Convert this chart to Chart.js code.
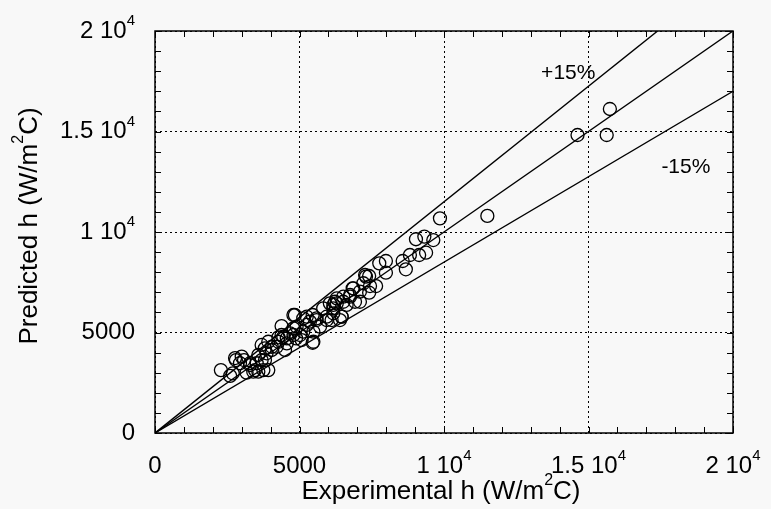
<!DOCTYPE html>
<html>
<head>
<meta charset="utf-8">
<script src="https://cdn.jsdelivr.net/npm/chart.js@4.4.1/dist/chart.umd.min.js"></script>
<style>
    html, body { margin: 0; padding: 0; background: #f8f8f8; }
    #wrap { width: 771px; height: 509px; }
</style>
</head>
<body>
<div id="wrap"><canvas id="hChart" width="771" height="509"></canvas></div>
<script>
// measured vs predicted heat transfer coefficient, W/m2C
const expH = [
    2280, 2600, 2690, 2800, 2940, 3080, 3170, 3400, 3290, 3520, 3575, 3750, 3805, 3690, 3860,
    3920, 4040, 4210, 4270, 4380, 4440, 4500, 4560, 4670, 4790, 4900, 4880, 5020, 5130, 5250,
    5360, 5455, 5480, 5590, 5710, 5820, 5940, 6110, 6170, 6290, 6460, 6515, 6630,
    5455, 5250, 4840, 5590, 5940, 6170, 6400, 6050, 6230, 6515, 6750, 6920, 6860, 7090, 7210,
    7270, 5480, 5130, 4790, 5075,
    2770, 3000, 3290, 3575, 3800, 4040, 4270, 4380, 4560, 4790, 3690, 3460, 3920,
    6170, 6290, 6460, 6750, 7090, 7410, 6840, 7440, 7650, 7300, 7410, 7990, 7760, 7990, 8680,
    8570, 8820, 9140, 9380, 9630, 9030, 9320,
    9860, 11500, 14620, 15630, 15740
];
const predH = [
    3130, 2840, 2970, 3630, 3470, 3630, 3000, 3050, 3470, 3470, 3050, 3130, 3630, 4380, 3965,
    4540, 4130, 4290, 4760, 5320, 4790, 4130, 4460, 4960, 5870, 5290, 4710, 4875, 5705, 5375,
    5540, 4490, 5040, 5705, 5290, 6200, 5785, 5620, 6370, 6700, 5785, 6780, 6370,
    5870, 5785, 5870, 5620, 5620, 5955, 5620, 6450, 6530, 6530, 6780, 6530, 7200, 7030, 7450,
    7860, 4540, 5040, 5210, 4625,
    3730, 3800, 3380, 3880, 4210, 4290, 4540, 4875, 4710, 4875, 3630, 3130, 3130,
    6200, 6450, 5785, 6865, 6530, 6980, 7200, 7310, 7310, 7780, 7810, 7975, 8440, 8557, 8145,
    8557, 8855, 8855, 8970, 9600, 9640, 9770,
    10680, 10800, 14825, 14825, 16120
];

// reference lines: perfect agreement and +/-15%
const parityLine = [[0, 0], [20000, 20000]];
const plus15Line = [[0, 0], [17391, 20000]];
const minus15Line = [[0, 0], [20000, 17000]];

const tickValues = [0, 5000, 10000, 15000, 20000];
const tickLabels = ['0', '5000', '1 10^4', '1.5 10^4', '2 10^4'];
const xTitle = 'Experimental h (W/m^2C)';
const yTitle = 'Predicted h (W/m^2C)';
const bandLabels = [
    { text: '+15%', x: 14300, y: 17900 },
    { text: '-15%', x: 18370, y: 13230 }
];

const FONT = '"Liberation Sans", Arial, Helvetica, sans-serif';

// split 'a^2b' into parts, char after ^ is raised
function richParts(str) {
    const parts = [];
    let buf = '';
    for (let i = 0; i < str.length; i++) {
        if (str[i] === '^') {
            if (buf) parts.push({ t: buf, sup: false });
            buf = '';
            parts.push({ t: str[i + 1], sup: true });
            i++;
        } else {
            buf += str[i];
        }
    }
    if (buf) parts.push({ t: buf, sup: false });
    return parts;
}

function drawRich(ctx, str, x, y, align, size) {
    const parts = richParts(str);
    const supSize = Math.round(size * 0.62);
    let w = 0;
    parts.forEach(p => {
        ctx.font = (p.sup ? supSize : size) + 'px ' + FONT;
        p.w = ctx.measureText(p.t).width;
        w += p.w;
    });
    let cx = align === 'center' ? x - w / 2 : (align === 'right' ? x - w : x);
    ctx.textAlign = 'left';
    ctx.textBaseline = 'middle';
    parts.forEach(p => {
        ctx.font = (p.sup ? supSize : size) + 'px ' + FONT;
        ctx.fillText(p.t, cx, p.sup ? y - size * 0.42 : y);
        cx += p.w;
    });
}

const toPoints = arr => arr.map(p => ({ x: p[0], y: p[1] }));

const framePlugin = {
    id: 'frame',
    afterDraw(chart) {
        const ctx = chart.ctx;
        const a = chart.chartArea;
        const xs = chart.scales.x;
        const ys = chart.scales.y;
        ctx.save();
        ctx.strokeStyle = '#000';
        ctx.fillStyle = '#000';

        // frame
        ctx.lineWidth = 1.5;
        ctx.strokeRect(a.left, a.top, a.right - a.left, a.bottom - a.top);

        // inward ticks every 1000 on all sides
        ctx.lineWidth = 1;
        ctx.beginPath();
        for (let v = 0; v <= 20000; v += 1000) {
            const px = Math.round(xs.getPixelForValue(v)) + 0.5;
            const py = Math.round(ys.getPixelForValue(v)) + 0.5;
            ctx.moveTo(px, a.bottom); ctx.lineTo(px, a.bottom - 6);
            ctx.moveTo(px, a.top); ctx.lineTo(px, a.top + 6);
            ctx.moveTo(a.left, py); ctx.lineTo(a.left + 6, py);
            ctx.moveTo(a.right, py); ctx.lineTo(a.right - 6, py);
        }
        ctx.stroke();

        // tick labels
        tickValues.forEach((v, i) => {
            drawRich(ctx, tickLabels[i], xs.getPixelForValue(v), a.bottom + 33, 'center', 24);
            drawRich(ctx, tickLabels[i], a.left - 20, ys.getPixelForValue(v), 'right', 24);
        });

        // axis titles
        drawRich(ctx, xTitle, (a.left + a.right) / 2 - 3, 492, 'center', 26);
        ctx.save();
        ctx.translate(30, (a.top + a.bottom) / 2 - 6);
        ctx.rotate(-Math.PI / 2);
        drawRich(ctx, yTitle, 0, 0, 'center', 26);
        ctx.restore();

        // band labels
        bandLabels.forEach(b => {
            drawRich(ctx, b.text, xs.getPixelForValue(b.x), ys.getPixelForValue(b.y), 'center', 21);
        });
        ctx.restore();
    }
};

const lineStyle = {
    type: 'line',
    borderColor: '#000',
    borderWidth: 1.4,
    pointRadius: 0,
    fill: false,
    tension: 0
};

new Chart(document.getElementById('hChart'), {
    type: 'scatter',
    data: {
        datasets: [
            Object.assign({ label: 'parity', data: toPoints(parityLine) }, lineStyle),
            Object.assign({ label: '+15%', data: toPoints(plus15Line) }, lineStyle),
            Object.assign({ label: '-15%', data: toPoints(minus15Line) }, lineStyle),
            {
                label: 'data',
                data: expH.map((x, i) => ({ x: x, y: predH[i] })),
                pointStyle: 'circle',
                pointRadius: 6.5,
                pointBorderWidth: 1.3,
                borderColor: '#000',
                backgroundColor: 'rgba(0,0,0,0)'
            }
        ]
    },
    options: {
        responsive: false,
        animation: false,
        devicePixelRatio: 1,
        layout: { padding: { left: 155, right: 38, top: 31, bottom: 76 } },
        plugins: { legend: { display: false }, tooltip: { enabled: false } },
        scales: {
            x: {
                type: 'linear', min: 0, max: 20000,
                ticks: { display: false, stepSize: 5000 },
                grid: { color: '#000', lineWidth: 1, drawTicks: false },
                border: { display: false, dash: [2, 3] }
            },
            y: {
                type: 'linear', min: 0, max: 20000,
                ticks: { display: false, stepSize: 5000 },
                grid: { color: '#000', lineWidth: 1, drawTicks: false },
                border: { display: false, dash: [2, 3] }
            }
        }
    },
    plugins: [framePlugin]
});
</script>
</body>
</html>
